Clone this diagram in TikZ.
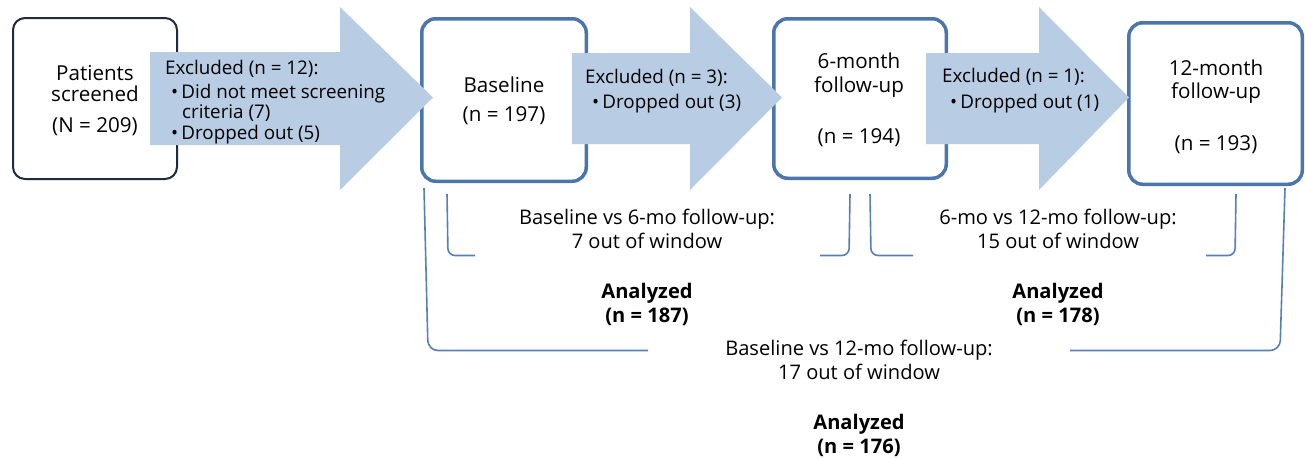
\documentclass[tikz,border=0pt]{standalone}
\usepackage{fontspec}
\setmainfont{Open Sans}
\definecolor{boxblue}{HTML}{4A75AD}
\definecolor{boxdark}{HTML}{1E2B3A}
\definecolor{arrowfill}{HTML}{B8CCE4}
\definecolor{brk}{HTML}{5580BC}
\tikzset{
  darkbox/.style={draw=boxdark, line width=2pt, rounded corners=12pt, fill=white, inner sep=0pt},
  bluebox/.style={draw=boxblue, line width=3.5pt, rounded corners=14pt, fill=white, inner sep=0pt},
  bigarrow/.style={fill=arrowfill, draw=none},
  boxtxt/.style={font=\fontsize{20.6}{24}\selectfont, anchor=base, inner sep=0pt},
  arrtxt/.style={font=\fontsize{18.8}{22}\selectfont, anchor=base west, inner sep=0pt},
  lowtxt/.style={font=\fontsize{20.1}{24}\selectfont, anchor=base, inner sep=0pt},
  boldtxt/.style={font=\fontsize{20.1}{24}\selectfont\bfseries, anchor=base, inner sep=0pt},
  bracket/.style={draw=brk, line width=1.6pt, rounded corners=7pt},
}
\begin{document}
\begin{tikzpicture}[x=1pt,y=-1pt]
\useasboundingbox (0,0) rectangle (1305,458);
% boxes
\node[darkbox, minimum width=164pt, minimum height=161pt] (scr) at (95,98.5) {};
\node[bluebox, minimum width=164.5pt, minimum height=162.5pt] (base) at (504,100) {};
\node[bluebox, minimum width=172.5pt, minimum height=159.5pt] (six) at (860,98.5) {};
\node[bluebox, minimum width=173.5pt, minimum height=161.5pt] (twelve) at (1215.5,103.5) {};
% arrows
\path[bigarrow] (150,52) -- (340,52) -- (340,7) -- (433,97.5) -- (340,190) -- (340,145) -- (150,145) -- cycle;
\path[bigarrow] (572,53) -- (690,53) -- (690,7) -- (782,97.5) -- (690,190) -- (690,144) -- (572,144) -- cycle;
\path[bigarrow] (926,53) -- (1039,53) -- (1039,7) -- (1129,97.5) -- (1039,190) -- (1039,144) -- (926,144) -- cycle;
% box texts
\node[boxtxt] (t1a) at (95,80) {Patients};
\node[boxtxt] (t1b) at (95,101) {screened};
\node[boxtxt] (t1c) at (95,132) {(N = 209)};
\node[boxtxt] (t2a) at (504,92) {Baseline};
\node[boxtxt] (t2b) at (504,121) {(n = 197)};
\node[boxtxt] (t3a) at (859,68) {6-month};
\node[boxtxt] (t3b) at (859,92) {follow-up};
\node[boxtxt] (t3c) at (859,143) {(n = 194)};
\node[boxtxt] (t4a) at (1216,75) {12-month};
\node[boxtxt] (t4b) at (1216,98) {follow-up};
\node[boxtxt] (t4c) at (1216,150) {(n = 193)};
% arrow texts
\node[arrtxt] (e1a) at (165,74) {Excluded (n = 12):};
\node[arrtxt] (e1b) at (171,98) {•\,Did not meet screening};
\node[arrtxt] (e1c) at (182,118) {criteria (7)};
\node[arrtxt] (e1d) at (171,139) {•\,Dropped out (5)};
\node[arrtxt] (e2a) at (585,83) {Excluded (n = 3):};
\node[arrtxt] (e2b) at (592,108) {•\,Dropped out (3)};
\node[arrtxt] (e3a) at (942,82) {Excluded (n = 1):};
\node[arrtxt] (e3b) at (950,108) {•\,Dropped out (1)};
% lower texts
\node[lowtxt] (c1a) at (647,224) {Baseline vs 6-mo follow-up:};
\node[lowtxt] (c1b) at (647,248) {7 out of window};
\node[boldtxt] (a1a) at (647,298) {Analyzed};
\node[boldtxt] (a1b) at (647,322) {(n = 187)};
\node[lowtxt] (c2a) at (1058,224) {6-mo vs 12-mo follow-up:};
\node[lowtxt] (c2b) at (1058,248) {15 out of window};
\node[boldtxt] (a2a) at (1058,298) {Analyzed};
\node[boldtxt] (a2b) at (1058,322) {(n = 178)};
\node[lowtxt] (c3a) at (859,355) {Baseline vs 12-mo follow-up:};
\node[lowtxt] (c3b) at (859,379) {17 out of window};
\node[boldtxt] (a3a) at (859,429) {Analyzed};
\node[boldtxt] (a3b) at (859,453) {(n = 176)};
% brackets
\coordinate (bA1) at (447,194);
\coordinate (bA2) at (475,255.5);
\coordinate (bA3) at (820,255.5);
\coordinate (bA4) at (850,194);
\draw[bracket] (bA1) -- (448,255.5) -- (bA2);
\draw[bracket] (bA3) -- (849,255.5) -- (bA4);
\coordinate (bB1) at (870,194);
\coordinate (bB2) at (913,255.5);
\coordinate (bB3) at (1206,255.5);
\coordinate (bB4) at (1236,194);
\draw[bracket] (bB1) -- (871,255.5) -- (bB2);
\draw[bracket] (bB3) -- (1235,255.5) -- (bB4);
\coordinate (bC1) at (424,188);
\coordinate (bC2) at (648,350.5);
\coordinate (bC3) at (1070,350.5);
\coordinate (bC4) at (1285,188);
\draw[bracket, rounded corners=10pt] (bC1) -- (428,350.5) -- (bC2);
\draw[bracket, rounded corners=10pt] (bC3) -- (1280,350.5) -- (bC4);
\end{tikzpicture}
\end{document}
